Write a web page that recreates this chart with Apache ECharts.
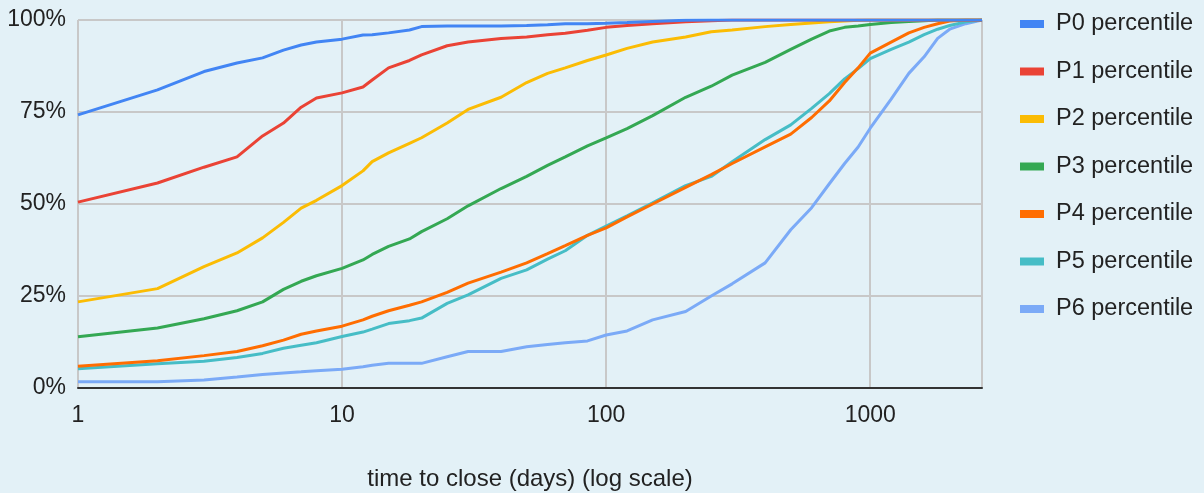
<!DOCTYPE html>
<html>
<head>
<meta charset="utf-8">
<script src="https://cdn.jsdelivr.net/npm/echarts@6/dist/echarts.min.js"></script>
<style>
  html, body { margin: 0; padding: 0; background: #e3f1f7; }
  #chart { width: 1204px; height: 493px; }
</style>
</head>
<body>
<div id="chart"></div>
<script>
// days since open (x, log scale)
const days = [1, 2, 3, 4, 5, 6, 7, 8, 10, 12, 13, 15, 18, 20, 25, 30, 40, 50, 60, 70, 85, 100, 120, 150, 200, 250, 300, 400, 500, 600, 700, 800, 900, 1000, 1200, 1400, 1600, 1800, 2000, 2300, 2650]

// share closed (%) for each percentile group, one value per day above
const p0 = [74.2, 81, 86, 88.3, 89.7, 91.8, 93.2, 94, 94.8, 95.9, 96, 96.5, 97.3, 98.2, 98.4, 98.4, 98.4, 98.5, 98.7, 99, 99, 99.1, 99.3, 99.6, 99.9, 100, 100, 100, 100, 100, 100, 100, 100, 100, 100, 100, 100, 100, 100, 100, 100]
const p1 = [50.5, 55.7, 60, 62.8, 68.5, 72, 76.3, 78.8, 80.2, 81.8, 83.7, 87, 89, 90.5, 93, 94, 95, 95.4, 96, 96.4, 97.2, 98, 98.5, 99, 99.5, 99.8, 100, 100, 100, 100, 100, 100, 100, 100, 100, 100, 100, 100, 100, 100, 100]
const p2 = [23.4, 27, 33, 36.7, 40.8, 45, 48.9, 51, 55, 59, 61.5, 63.9, 66.5, 68, 72, 75.7, 79, 83, 85.5, 87, 89, 90.5, 92.3, 94, 95.4, 96.8, 97.3, 98.2, 98.8, 99.2, 99.5, 99.7, 99.9, 100, 100, 100, 100, 100, 100, 100, 100]
const p3 = [13.9, 16.3, 18.8, 21, 23.4, 26.8, 29, 30.5, 32.5, 34.8, 36.3, 38.5, 40.5, 42.5, 46, 49.5, 54.2, 57.5, 60.5, 62.8, 65.8, 68, 70.5, 74, 79, 82, 85, 88.5, 92, 94.8, 97, 98, 98.4, 98.8, 99.3, 99.6, 99.8, 100, 100, 100, 100]
const p4 = [5.9, 7.4, 8.8, 9.9, 11.5, 13, 14.6, 15.5, 16.8, 18.5, 19.5, 21, 22.5, 23.4, 26, 28.5, 31.5, 34, 36.5, 38.7, 41.5, 43.5, 46.5, 50, 54.5, 58, 61, 65.5, 69, 73.5, 78, 83, 87, 91, 94, 96.5, 98, 99, 99.7, 100, 100]
const p5 = [5.2, 6.6, 7.3, 8.3, 9.4, 10.8, 11.6, 12.3, 14, 15.2, 16, 17.5, 18.3, 19, 23, 25.3, 29.8, 32.1, 35, 37.3, 41.5, 44, 46.8, 50.3, 55, 57.5, 61.5, 67.5, 71.5, 76, 80, 84, 86.8, 89.5, 92, 94, 96, 97.5, 98.5, 99.5, 100]
const p6 = [1.7, 1.7, 2.2, 3, 3.7, 4.1, 4.4, 4.7, 5.1, 5.8, 6.2, 6.7, 6.7, 6.7, 8.5, 9.9, 9.9, 11.2, 11.8, 12.3, 12.8, 14.4, 15.5, 18.5, 20.8, 25, 28.3, 34, 43, 49, 55.5, 61, 65.5, 70.6, 78.5, 85.5, 90, 95, 97.5, 99, 100]

const yTicks = [0, 25, 50, 75, 100]

const names = ['P0 percentile', 'P1 percentile', 'P2 percentile', 'P3 percentile', 'P4 percentile', 'P5 percentile', 'P6 percentile']
const colors = ['#4285f4', '#ea4335', '#fbbc04', '#34a853', '#ff6d01', '#46bdc6', '#7baaf7']
const allValues = [p0, p1, p2, p3, p4, p5, p6]

const font = '"Liberation Sans", Arial, sans-serif'
const chart = echarts.init(document.getElementById('chart'))

chart.setOption({
  backgroundColor: '#e3f1f7',
  animation: false,
  textStyle: { fontFamily: font },
  grid: { left: 78, right: 222, top: 20, bottom: 105, containLabel: false, outerBoundsMode: 'none' },
  legend: {
    orient: 'vertical',
    left: 1015,
    top: 7,
    itemWidth: 24,
    itemHeight: 8,
    itemGap: 23.5,
    icon: 'rect',
    data: names,
    textStyle: { fontSize: 23.5, color: '#222', padding: [0, 0, 0, 7] },
  },
  xAxis: {
    type: 'log',
    logBase: 10,
    min: 1,
    max: 2650,
    name: 'time to close (days) (log scale)',
    nameLocation: 'middle',
    nameGap: 79,
    nameTextStyle: { fontSize: 24, color: '#222' },
    axisLine: { lineStyle: { color: '#333', width: 2 } },
    axisTick: { show: false },
    axisLabel: {
      fontSize: 23, color: '#222', margin: 16, showMaxLabel: false,
      formatter: v => String(Math.round(v)),
    },
    splitLine: { show: true, lineStyle: { color: '#c8c8c8', width: 2 } },
  },
  yAxis: {
    type: 'value',
    min: yTicks[0],
    max: yTicks[yTicks.length - 1],
    interval: 25,
    axisLine: { show: false },
    axisTick: { show: false },
    axisLabel: { fontSize: 23, color: '#222', margin: 12, formatter: '{value}%' },
    splitLine: { lineStyle: { color: '#c8c8c8', width: 2 } },
  },
  series: names.map((name, i) => ({
    name,
    type: 'line',
    showSymbol: false,
    data: days.map((d, j) => [d, allValues[i][j]]),
    itemStyle: { color: colors[i] },
    lineStyle: { width: 3, color: colors[i] },
    z: 10 - i,
  })),
})
</script>
</body>
</html>
